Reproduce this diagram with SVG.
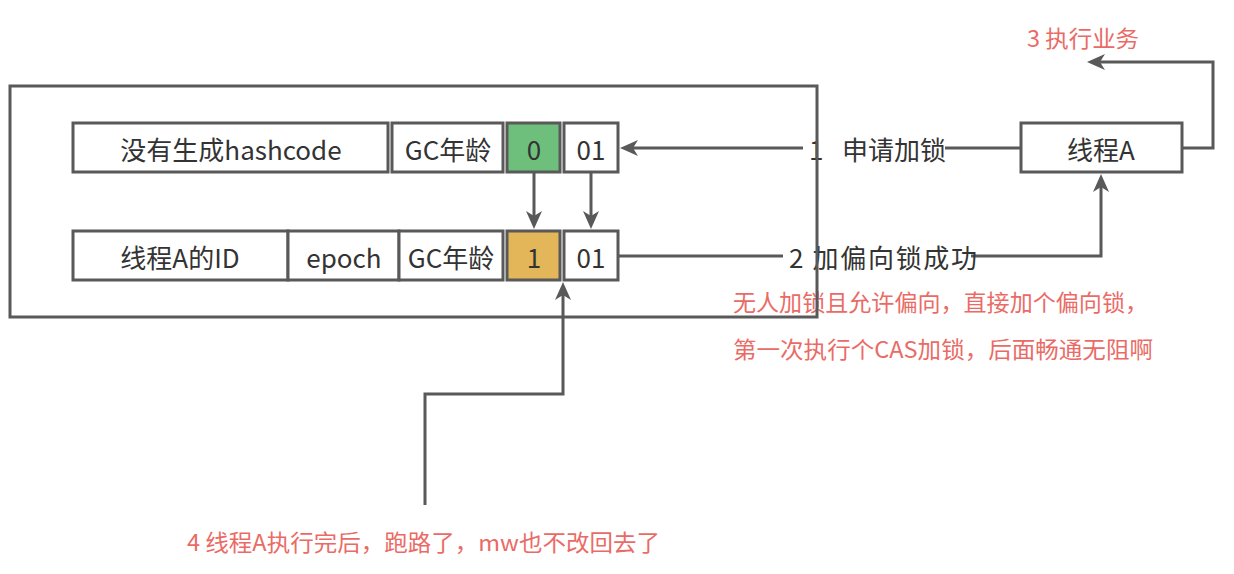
<svg xmlns="http://www.w3.org/2000/svg" width="1234" height="574" viewBox="0 0 1234 574">
<defs>
<style>
.cell{fill:#fff;stroke:#595959;stroke-width:3}
.t{font-family:"Noto Sans CJK SC","Microsoft YaHei",sans-serif;font-size:26px;fill:#333;text-anchor:middle;dominant-baseline:central}
.lbl{font-family:"Noto Sans CJK SC",sans-serif;font-size:26px;fill:#333;dominant-baseline:central}
.red{font-family:"Noto Sans CJK SC",sans-serif;font-size:22.5px;fill:#EA6B66;dominant-baseline:central}
.edge{fill:none;stroke:#595959;stroke-width:3}
</style>
<marker id="arr" markerUnits="userSpaceOnUse" markerWidth="18" markerHeight="16" refX="8" refY="8" orient="auto">
<path d="M0,0 L18,8 L0,16 L5,8 z" fill="#595959"/>
</marker>
</defs>
<rect width="1234" height="574" fill="#fff"/>
<g id="connectors">
<line class="edge" x1="534" y1="173" x2="534" y2="219" marker-end="url(#arr)"/>
<line class="edge" x1="591" y1="173" x2="591" y2="219" marker-end="url(#arr)"/>
<line class="edge" x1="1021" y1="148" x2="630" y2="148" marker-end="url(#arr)"/>
<polyline class="edge" points="618,256 1101,256 1101,184" marker-end="url(#arr)"/>
<polyline class="edge" points="1182,148 1213,148 1213,62 1097,62" marker-end="url(#arr)"/>
<polyline class="edge" points="425,505 425,394 563,394 563,292" marker-end="url(#arr)"/>
<rect x="803" y="135" width="142" height="26" fill="#fff"/>
<rect x="783" y="243" width="188" height="26" fill="#fff"/>
<text class="lbl" y="148"><tspan x="809">1</tspan><tspan x="842">申请加锁</tspan></text>
<text class="lbl" x="789" y="256" textLength="188" lengthAdjust="spacing">2 加偏向锁成功</text>
</g>
<g id="notes">
<text class="red" x="1027" y="37" textLength="112" lengthAdjust="spacingAndGlyphs">3 执行业务</text>
<text class="red" x="733" y="301" textLength="415" lengthAdjust="spacingAndGlyphs">无人加锁且允许偏向，直接加个偏向锁，</text>
<text class="red" x="733" y="348" textLength="420" lengthAdjust="spacingAndGlyphs">第一次执行个CAS加锁，后面畅通无阻啊</text>
<text class="red" x="187" y="541" textLength="473" lengthAdjust="spacingAndGlyphs">4 线程A执行完后，跑路了，mw也不改回去了</text>
</g>
<g id="markword-container">
<rect x="10" y="86" width="807" height="231" fill="none" stroke="#595959" stroke-width="3"/>
</g>
<g id="row-unlocked">
<rect class="cell" x="73" y="123" width="315" height="49"/>
<text class="t" x="231" y="148">没有生成hashcode</text>
<rect class="cell" x="392" y="123" width="111" height="49"/>
<text class="t" x="448" y="148">GC年龄</text>
<rect class="cell" x="507" y="123" width="53" height="49" style="fill:#6fbf7c"/>
<text class="t" x="534" y="148">0</text>
<rect class="cell" x="564" y="123" width="54" height="49"/>
<text class="t" x="591" y="148">01</text>
</g>
<g id="row-biased">
<rect class="cell" x="73" y="231" width="215" height="49"/>
<text class="t" x="180" y="256">线程A的ID</text>
<rect class="cell" x="288" y="231" width="111" height="49"/>
<text class="t" x="344" y="256">epoch</text>
<rect class="cell" x="399" y="231" width="104" height="49"/>
<text class="t" x="451" y="256">GC年龄</text>
<rect class="cell" x="507" y="231" width="53" height="49" style="fill:#e2b659"/>
<text class="t" x="534" y="256">1</text>
<rect class="cell" x="564" y="231" width="54" height="49"/>
<text class="t" x="591" y="256">01</text>
</g>
<g id="threadA">
<rect class="cell" x="1021" y="123" width="161" height="49"/>
<text class="t" x="1101" y="148">线程A</text>
</g>
</svg>
